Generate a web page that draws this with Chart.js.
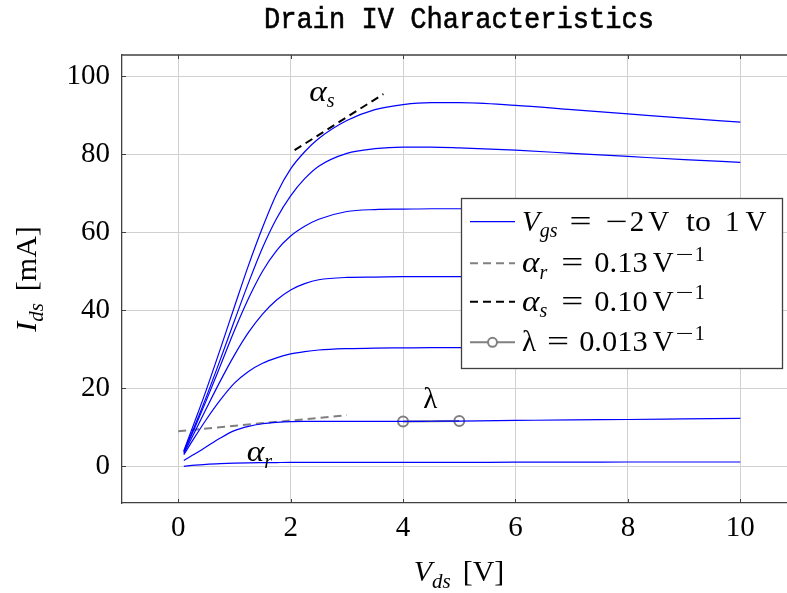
<!DOCTYPE html>
<html>
<head>
<meta charset="utf-8">
<script src="https://cdn.jsdelivr.net/npm/chart.js@4.4.1/dist/chart.umd.min.js"></script>
<style>
    html, body { margin: 0; padding: 0; background: #fff; overflow: hidden; }
    #wrap { width: 787px; height: 593px; }
</style>
</head>
<body>
<div id="wrap"><canvas id="myChart" width="787" height="593"></canvas></div>
<script>
// drain voltage samples [V]
const vds = [0.1, 0.3, 0.5, 0.75, 1, 1.25, 1.5, 1.75, 2, 2.25, 2.5, 3, 3.5, 4, 4.5, 5, 6, 7, 8, 9, 10];

// drain current [mA], one array per gate voltage (top curve first)
const idsCurve7 = [4.0, 11.7, 19.6, 30.1, 40.9, 51.5, 61.2, 69.8, 76.2, 80.6, 84.0, 88.6, 91.4, 92.7, 93.2, 93.2, 92.5, 91.4, 90.3, 89.2, 88.2];
const idsCurve6 = [3.8, 10.6, 17.8, 27.4, 37.3, 47.0, 56.0, 63.5, 69.3, 73.7, 76.9, 80.2, 81.4, 81.8, 81.8, 81.6, 81.0, 80.2, 79.4, 78.6, 77.9];
const idsCurve5 = [3.6, 10.1, 16.9, 25.8, 34.8, 43.0, 50.0, 55.3, 59.0, 61.5, 63.3, 65.3, 65.8, 65.9, 66, 66, 66, 66, 65.9, 65.9, 65.8];
const idsCurve4 = [3.3, 9.0, 14.8, 21.9, 28.5, 34.3, 39.0, 42.6, 45.2, 46.8, 47.8, 48.4, 48.5, 48.6, 48.6, 48.6, 48.6, 48.6, 48.6, 48.6, 48.6];
const idsCurve3 = [3.0, 7.6, 12.0, 17.0, 21.3, 24.3, 26.4, 27.8, 28.8, 29.4, 29.8, 30.15, 30.3, 30.35, 30.4, 30.4, 30.4, 30.4, 30.4, 30.35, 30.3];
const idsCurve2 = [1.5, 3.2, 5.0, 7.25, 9.15, 10.25, 10.9, 11.25, 11.45, 11.5, 11.5, 11.5, 11.5, 11.5, 11.55, 11.6, 11.75, 11.9, 12, 12.15, 12.3];
const idsCurve1 = [0, 0.3, 0.5, 0.67, 0.8, 0.88, 0.93, 0.97, 1, 1, 1, 1, 1, 1, 1, 1, 1.05, 1.05, 1.1, 1.1, 1.1];

// slope markers
const alphaRX = [0, 3];
const alphaRY = [9.0, 13.1];
const alphaSX = [2.07, 3.65];
const alphaSY = [81.0, 95.4];
const lambdaX = [4, 5];
const lambdaY = [11.5, 11.6];

const xTicks = [0, 2, 4, 6, 8, 10];
const yTicks = [0, 20, 40, 60, 80, 100];

const titleText = "Drain IV Characteristics";

const serif = "'Liberation Serif', 'DejaVu Serif', serif";
const AXIS = "#404040";
const BLUE = "#0000ff";
const GRAY = "#808080";

function toPoints(xs, ys) {
    return xs.map((x, i) => ({x: x, y: ys[i]}));
}

function fontFor(style, size) {
    if (style === "i") return "italic " + size + "px " + serif;
    if (style === "isub") return "italic " + Math.round(size * 0.7) + "px " + serif;
    if (style === "rsup") return Math.round(size * 0.7) + "px " + serif;
    return size + "px " + serif;
}

// parts: [text, style, gapBefore, xScale]
function mathWidth(ctx, parts, size) {
    let w = 0;
    parts.forEach(p => {
        ctx.font = fontFor(p[1], size);
        w += (p[2] || 0) + ctx.measureText(p[0]).width * (p[3] || 1);
    });
    return w;
}

function drawMath(ctx, parts, x, y, size) {
    ctx.textBaseline = "alphabetic";
    ctx.textAlign = "left";
    parts.forEach(p => {
        ctx.font = fontFor(p[1], size);
        const sx = p[3] || 1;
        x += p[2] || 0;
        let dy = 0;
        if (p[1] === "isub") dy = size * 0.22;
        if (p[1] === "rsup") dy = -size * 0.4;
        ctx.save();
        ctx.translate(x, y + dy);
        ctx.scale(sx, 1);
        ctx.fillText(p[0], 0, 0);
        ctx.restore();
        x += ctx.measureText(p[0]).width * sx;
    });
}

const curveSet = [idsCurve7, idsCurve6, idsCurve5, idsCurve4, idsCurve3, idsCurve2, idsCurve1];

const datasets = curveSet.map(ys => ({
    data: toPoints(vds, ys),
    borderColor: BLUE,
    borderWidth: 1.2,
    pointRadius: 0,
    cubicInterpolationMode: "monotone",
    fill: false
}));

datasets.push({
    data: toPoints(alphaRX, alphaRY),
    borderColor: GRAY,
    borderWidth: 2,
    borderDash: [8, 5],
    pointRadius: 0
});
datasets.push({
    data: toPoints(alphaSX, alphaSY),
    borderColor: "#000",
    borderWidth: 2,
    borderDash: [8, 5],
    pointRadius: 0
});
datasets.push({
    data: toPoints(lambdaX, lambdaY),
    borderColor: GRAY,
    borderWidth: 2,
    pointRadius: 5,
    pointBorderWidth: 2,
    pointBorderColor: GRAY,
    pointBackgroundColor: "rgba(0,0,0,0)"
});

const decorations = {
    id: "decorations",
    afterDraw(chart) {
        const ctx = chart.ctx;
        const a = chart.chartArea;
        const xs = chart.scales.x;
        const ys = chart.scales.y;
        ctx.save();

        // top frame line + inner tick marks
        ctx.strokeStyle = AXIS;
        ctx.lineWidth = 1.3;
        ctx.beginPath();
        ctx.moveTo(a.left, a.top);
        ctx.lineTo(a.right, a.top);
        ctx.stroke();
        ctx.lineWidth = 1;
        ctx.beginPath();
        xTicks.forEach(v => {
            const px = Math.round(xs.getPixelForValue(v)) + 0.5;
            ctx.moveTo(px, a.bottom);
            ctx.lineTo(px, a.bottom - 4);
            ctx.moveTo(px, a.top);
            ctx.lineTo(px, a.top + 4);
        });
        yTicks.forEach(v => {
            const py = Math.round(ys.getPixelForValue(v)) + 0.5;
            ctx.moveTo(a.left, py);
            ctx.lineTo(a.left + 4, py);
        });
        ctx.stroke();

        ctx.fillStyle = "#000";

        // title, centred on the full axis width (axis runs past the right edge)
        ctx.font = "30px 'Liberation Mono', 'DejaVu Sans Mono', monospace";
        const tw = ctx.measureText(titleText).width;
        ctx.save();
        ctx.translate(459, 28);
        ctx.scale(390 / tw, 1);
        ctx.textAlign = "center";
        ctx.textBaseline = "alphabetic";
        ctx.strokeStyle = "#000";
        ctx.lineWidth = 0.6;
        ctx.fillText(titleText, 0, 0);
        ctx.strokeText(titleText, 0, 0);
        ctx.restore();

        // axis labels
        const xl = [["V", "i"], ["ds", "isub"], ["[V]", "r", 12]];
        const xlw = mathWidth(ctx, xl, 30);
        drawMath(ctx, xl, 459 - xlw / 2, 581, 30);

        const yl = [["I", "i"], ["ds", "isub"], ["[mA]", "r", 12]];
        const ylw = mathWidth(ctx, yl, 30);
        ctx.save();
        ctx.translate(36, 279);
        ctx.rotate(-Math.PI / 2);
        drawMath(ctx, yl, -ylw / 2, 0, 30);
        ctx.restore();

        // annotations
        drawMath(ctx, [["α", "i", 0, 1.15], ["s", "isub"]], xs.getPixelForValue(2.33), ys.getPixelForValue(93.6), 29);
        drawMath(ctx, [["λ", "r"]], xs.getPixelForValue(4.36), ys.getPixelForValue(14.9), 29);
        drawMath(ctx, [["α", "i", 0, 1.15], ["r", "isub"]], xs.getPixelForValue(1.22), ys.getPixelForValue(1.3), 29);

        // legend box
        const lx = 461, ly = 198, lw = 321, lh = 170;
        ctx.fillStyle = "#fff";
        ctx.fillRect(lx, ly, lw, lh);
        ctx.strokeStyle = AXIS;
        ctx.lineWidth = 1.3;
        ctx.strokeRect(lx + 0.5, ly + 0.5, lw, lh);

        const rows = [221.7, 263.3, 301.7, 342.3];
        const lineX0 = 470, lineX1 = 515, textX = 522;

        ctx.lineWidth = 1.2;
        ctx.strokeStyle = BLUE;
        ctx.setLineDash([]);
        ctx.beginPath();
        ctx.moveTo(lineX0, rows[0]);
        ctx.lineTo(lineX1, rows[0]);
        ctx.stroke();

        ctx.lineWidth = 2;
        ctx.strokeStyle = GRAY;
        ctx.setLineDash([8, 5]);
        ctx.beginPath();
        ctx.moveTo(lineX0, rows[1]);
        ctx.lineTo(lineX1, rows[1]);
        ctx.stroke();

        ctx.strokeStyle = "#000";
        ctx.beginPath();
        ctx.moveTo(lineX0, rows[2]);
        ctx.lineTo(lineX1, rows[2]);
        ctx.stroke();

        ctx.setLineDash([]);
        ctx.strokeStyle = GRAY;
        ctx.beginPath();
        ctx.moveTo(lineX0, rows[3]);
        ctx.lineTo(lineX1, rows[3]);
        ctx.stroke();
        ctx.fillStyle = "#fff";
        ctx.beginPath();
        ctx.arc((lineX0 + lineX1) / 2, rows[3], 4.5, 0, Math.PI * 2);
        ctx.fill();
        ctx.stroke();

        ctx.fillStyle = "#000";
        const ls = 29;
        drawMath(ctx, [["V", "i"], ["gs", "isub"], ["=", "r", 12, 1.35], ["−", "r", 14, 1.35], ["2", "r", 2],
            ["V", "r", 4], ["to", "r", 17, 1.1], ["1", "r", 14], ["V", "r", 6]], textX, rows[0] + 9, ls);
        drawMath(ctx, [["α", "i", 0, 1.15], ["r", "isub"], ["=", "r", 14, 1.35], ["0.13", "r", 11, 1.05],
            ["V", "r", 5], ["−", "rsup", 2, 1.6], ["1", "rsup", 1]], textX, rows[1] + 9, ls);
        drawMath(ctx, [["α", "i", 0, 1.15], ["s", "isub"], ["=", "r", 14, 1.35], ["0.10", "r", 11, 1.05],
            ["V", "r", 5], ["−", "rsup", 2, 1.6], ["1", "rsup", 1]], textX, rows[2] + 9, ls);
        drawMath(ctx, [["λ", "r"], ["=", "r", 11, 1.35], ["0.013", "r", 10, 1.05],
            ["V", "r", 5], ["−", "rsup", 2, 1.6], ["1", "rsup", 1]], textX, rows[3] + 9, ls);

        ctx.restore();
    }
};

const ctx = document.getElementById("myChart");

const myChart = new Chart(ctx, {
    type: "line",
    data: {datasets: datasets},
    plugins: [decorations],
    options: {
        responsive: false,
        animation: false,
        devicePixelRatio: 1,
        layout: {autoPadding: false, padding: {top: 55, right: 0, left: 0, bottom: 0}},
        plugins: {
            legend: {display: false},
            title: {display: false},
            tooltip: {enabled: false}
        },
        scales: {
            x: {
                type: "linear",
                min: -1,
                max: 10.83,
                afterBuildTicks: axis => { axis.ticks = xTicks.map(v => ({value: v})); },
                afterFit: axis => {
                    axis.height = 90;
                    axis.paddingRight = 0;
                    axis.paddingLeft = 0;
                },
                grid: {color: "#d0d0d0", lineWidth: 1, drawTicks: false},
                border: {color: AXIS, width: 1.3},
                ticks: {
                    color: "#000",
                    padding: 8,
                    maxRotation: 0,
                    autoSkip: false,
                    font: {family: serif, size: 29}
                }
            },
            y: {
                type: "linear",
                min: -9.4,
                max: 105.4,
                afterBuildTicks: axis => { axis.ticks = yTicks.map(v => ({value: v})); },
                afterFit: axis => {
                    axis.width = 122;
                    axis.paddingTop = 0;
                    axis.paddingBottom = 0;
                },
                grid: {color: "#d0d0d0", lineWidth: 1, drawTicks: false},
                border: {color: AXIS, width: 1.3},
                ticks: {
                    color: "#000",
                    padding: 12,
                    autoSkip: false,
                    font: {family: serif, size: 29}
                }
            }
        }
    }
});
</script>
</body>
</html>
